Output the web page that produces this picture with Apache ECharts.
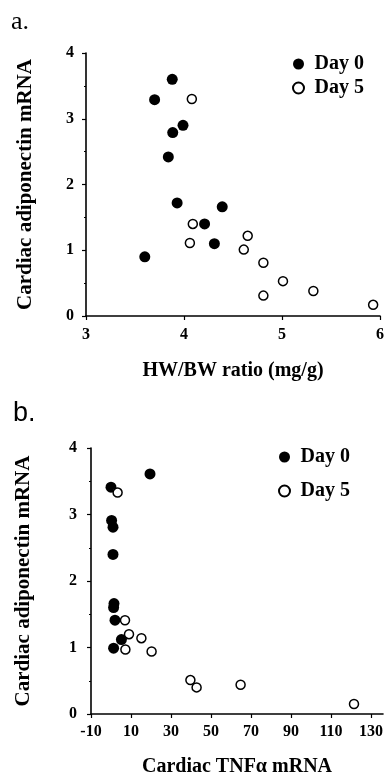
<!DOCTYPE html>
<html>
<head>
<meta charset="utf-8">
<script src="https://cdn.jsdelivr.net/npm/echarts@6/dist/echarts.min.js"></script>
<style>
  html, body { margin: 0; padding: 0; background: #fff; }
  .chart { width: 387px; height: 778px; }
</style>
</head>
<body>
<div class="chart"></div>
<script>
// 数据 a: HW/BW ratio vs adiponectin
var hwbwDay0 = [3.60, 3.70, 3.88, 3.885, 3.99, 3.84, 3.93, 4.21, 4.31, 4.39];
var adipoDay0A = [0.90, 3.29, 3.60, 2.79, 2.90, 2.42, 1.72, 1.40, 1.10, 1.66];
var hwbwDay5 = [4.08, 4.09, 4.06, 4.65, 4.61, 4.81, 4.81, 5.01, 5.32, 5.93];
var adipoDay5A = [3.30, 1.40, 1.11, 1.22, 1.01, 0.81, 0.31, 0.53, 0.38, 0.17];

// 数据 b: TNFα vs adiponectin
var tnfDay0 = [0, 19.5, 0.3, 1, 1, 1.5, 1.3, 2, 5.2, 1.3];
var adipoDay0B = [3.41, 3.61, 2.91, 2.81, 2.40, 1.66, 1.60, 1.41, 1.12, 0.99];
var tnfDay5 = [3.3, 7, 9, 15.2, 7.2, 20.3, 39.7, 42.8, 64.8, 121.5];
var adipoDay5B = [3.33, 1.41, 1.20, 1.14, 0.97, 0.94, 0.51, 0.40, 0.44, 0.15];

var seriesNames = ["Day 0", "Day 5"];
var xTicksA = [3, 4, 5, 6];
var xTicksB = [-10, 10, 30, 50, 70, 90, 110, 130];
var yTicks = [0, 1, 2, 3, 4];

(function () {
  var myChart = echarts.init(document.querySelector(".chart"));
  var serif = '"Liberation Serif", "Times New Roman", serif';

  function pairs(xs, ys) {
    return xs.map(function (x, i) { return [x, ys[i]]; });
  }

  function axisBase(extra) {
    var base = {
      type: "value",
      splitLine: { show: false },
      axisLine: { onZero: false, lineStyle: { color: "#000", width: 1.6 } },
      axisTick: { inside: false, length: 4, lineStyle: { color: "#000", width: 1.2 } },
      axisLabel: { color: "#000", fontFamily: serif, fontWeight: "bold", fontSize: 16 },
      nameLocation: "middle",
      nameTextStyle: { color: "#000", fontFamily: serif, fontWeight: "bold", fontSize: 20 }
    };
    for (var k in extra) {
      if (typeof extra[k] === "object" && base[k] && !Array.isArray(extra[k])) {
        base[k] = Object.assign({}, base[k], extra[k]);
      } else {
        base[k] = extra[k];
      }
    }
    return base;
  }

  // 实心 / 空心圆点
  var filled = { color: "#000", opacity: 1 };
  var open = { color: "#fff", borderColor: "#000", borderWidth: 1.5, opacity: 1 };

  var legendText = { color: "#000", fontFamily: serif, fontWeight: "bold", fontSize: 20 };

  var option = {
    animation: false,
    backgroundColor: "#fff",
    graphic: [
      { type: "text", left: 11, top: 9, style: { text: "a.", font: "26px " + serif, fill: "#000" } },
      { type: "text", left: 13, top: 400, style: { text: "b.", font: "27px 'Liberation Sans', Arial, sans-serif", fill: "#000" } }
    ],
    legend: [
      {
        data: seriesNames, orient: "vertical", left: 287, top: 49,
        icon: "circle", itemWidth: 22, itemHeight: 11, itemGap: 4,
        textStyle: legendText, selectedMode: false
      },
      {
        data: seriesNames, orient: "vertical", left: 273, top: 442,
        icon: "circle", itemWidth: 22, itemHeight: 11, itemGap: 14,
        textStyle: legendText, selectedMode: false
      }
    ],
    grid: [
      { left: 86, right: 6, top: 53, height: 263 },
      { left: 91, right: 4, top: 448, height: 267 }
    ],
    xAxis: [
      axisBase({
        gridIndex: 0, min: xTicksA[0], max: xTicksA[xTicksA.length - 1], interval: 1,
        name: "HW/BW ratio (mg/g)", nameGap: 45,
        axisLabel: { margin: 11 }
      }),
      axisBase({
        gridIndex: 1, min: xTicksB[0], max: 136, interval: 20,
        name: "Cardiac TNFα mRNA", nameGap: 43,
        axisLabel: { margin: 10, showMaxLabel: false }
      })
    ],
    yAxis: [
      axisBase({
        gridIndex: 0, min: yTicks[0], max: yTicks[yTicks.length - 1], interval: 1,
        name: "Cardiac adiponectin mRNA", nameGap: 50,
        nameTextStyle: { fontSize: 21 },
        axisLabel: { margin: 12 },
        minorTick: { show: true, splitNumber: 2, length: 2, lineStyle: { color: "#000" } }
      }),
      axisBase({
        gridIndex: 1, min: yTicks[0], max: yTicks[yTicks.length - 1], interval: 1,
        name: "Cardiac adiponectin mRNA", nameGap: 57,
        nameTextStyle: { fontSize: 21 },
        axisLabel: { margin: 14 },
        minorTick: { show: true, splitNumber: 2, length: 2, lineStyle: { color: "#000" } }
      })
    ],
    series: [
      {
        name: seriesNames[0], type: "scatter", xAxisIndex: 0, yAxisIndex: 0,
        symbolSize: 11, itemStyle: filled, data: pairs(hwbwDay0, adipoDay0A)
      },
      {
        name: seriesNames[1], type: "scatter", xAxisIndex: 0, yAxisIndex: 0,
        symbolSize: 9, itemStyle: open, data: pairs(hwbwDay5, adipoDay5A)
      },
      {
        name: seriesNames[0], type: "scatter", xAxisIndex: 1, yAxisIndex: 1,
        symbolSize: 11, itemStyle: filled, data: pairs(tnfDay0, adipoDay0B)
      },
      {
        name: seriesNames[1], type: "scatter", xAxisIndex: 1, yAxisIndex: 1,
        symbolSize: 9, itemStyle: open, data: pairs(tnfDay5, adipoDay5B)
      }
    ]
  };

  myChart.setOption(option);
  window.addEventListener("resize", function () {
    myChart.resize();
  });
})();
</script>
</body>
</html>
